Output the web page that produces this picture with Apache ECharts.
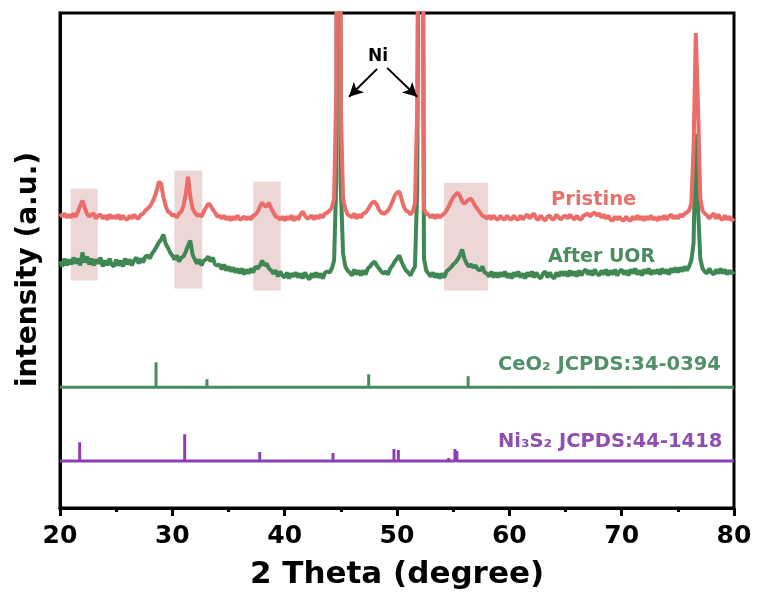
<!DOCTYPE html>
<html>
<head>
<meta charset="utf-8">
<script src="https://cdn.jsdelivr.net/npm/echarts@6/dist/echarts.min.js"></script>
<style>html,body{margin:0;padding:0;background:#fff}#chart{width:758px;height:597px}</style>
</head>
<body>
<div id="chart"></div>
<script>
// 2-theta sampling grid of the scans (degrees)
const thetaStart = 20;
const thetaStep = 0.2;

// Pristine scan (offset intensity, a.u.), 5 points per degree from 20 to 80
const pristine = [
295,292,295,291,294, 291,295,292,297,303, 308,301,295,292,294, 295,290,293,294,290,
293,289,294,290,293, 290,294,289,293,290, 289,293,290,294,291, 290,294,295,298,300,
302,306,311,318,327, 325,312,303,297,296, 293,294,291,295,297, 303,315,332,312,300,
296,293,294,292,297, 301,305,303,299,296, 292,293,290,293,289, 292,288,292,289,293,
289,290,292,289,292, 289,293,294,297,302, 306,303,302,306,300, 296,292,291,289,292,
288,292,289,293,288, 292,289,294,297,293, 290,291,293,289,293, 290,294,291,295,296,
298,301,310,420,1500, 400,310,300,294,293, 291,295,290,294,291, 295,296,299,303,306,
307,304,299,296,295, 296,298,302,307,313, 316,317,310,302,298, 297,294,297,305,400,
900,1000,300,295,294, 291,294,290,294,291, 293,295,298,302,307, 311,314,316,313,307,
305,307,309,310,306, 302,299,296,293,292, 290,293,289,293,290, 289,293,290,289,293,
290,289,293,290,289, 293,289,292,294,290, 293,295,290,289,293, 290,288,292,293,289,
290,294,291,289,292, 293,290,294,291,289, 293,290,289,293,294, 295,292,295,296,293,
295,291,294,290,293, 289,288,292,289,292, 289,288,292,289,288, 292,289,293,289,292,
288,292,289,293,289, 291,288,292,289,293, 289,292,294,290,293, 290,294,292,295,296,
298,305,360,476,400, 310,298,295,293,290, 293,295,290,294,290, 289,293,289,292,288,
290
];

// After UOR scan (offset intensity, a.u.)
const afterUOR = [
247,242,250,243,249, 244,251,245,250,243, 256,246,252,244,250, 243,249,245,251,242,
248,243,250,244,242, 249,243,248,242,250, 244,249,243,248,251, 245,250,246,252,253,
250,255,258,262,266, 269,274,265,261,256, 253,249,253,247,251, 252,257,263,268,254,
249,245,249,243,248, 249,252,247,251,244, 243,244,239,244,238, 242,237,241,236,240,
235,240,234,239,235, 240,236,242,240,243, 248,243,245,240,238, 235,238,232,237,233,
231,236,230,235,232, 236,231,235,230,236, 232,229,235,231,236, 231,235,230,236,237,
236,240,248,330,1400, 320,255,242,238,236, 233,239,234,238,233, 238,234,240,242,245,
247,243,240,237,235, 237,234,240,243,247, 250,253,247,242,238, 236,233,238,242,320,
800,900,250,238,235, 232,236,231,235,230, 235,231,237,239,241, 244,246,249,253,259,
250,245,242,244,241, 243,239,238,242,236, 235,232,237,231,236, 231,236,232,237,231,
235,230,236,232,237, 231,235,230,236,232, 237,231,236,232,230, 235,237,231,236,232,
230,236,232,237,233, 237,232,238,233,237, 232,238,233,237,239, 234,238,233,239,235,
233,238,234,239,233, 238,234,239,233,237, 239,234,238,233,239, 235,240,234,238,233,
239,235,240,234,238, 235,239,234,240,235, 239,234,240,236,241, 236,241,237,242,238,
242,248,265,375,300, 250,240,237,235,240, 236,234,239,235,240, 235,239,234,238,235,
237
];

// Reference patterns (stick positions in degrees, relative heights)
const ceo2Pos = [28.55, 33.08, 47.48, 56.33, 59.09, 69.40, 76.70, 79.07];
const ceo2Int = [25, 8, 13, 11, 1, 1, 2, 1];
const ceo2Base = 121;
const ni3s2Pos = [21.75, 31.10, 37.78, 38.30, 44.30, 49.73, 50.12, 54.60, 55.16, 55.33];
const ni3s2Int = [19, 27, 9, 2, 8, 12, 11, 3, 12, 10];
const ni3s2Base = 47;

// Highlighted regions [x0, x1, y0, y1]
const boxes = [[20.95, 23.36, 228, 320], [30.18, 32.67, 220, 338], [37.21, 39.65, 218, 327], [54.17, 58.11, 218, 326]];
// Ni arrows [fromX, fromY, toX, toY]
const arrows = [[48.23, 440, 45.73, 412], [49.12, 441, 51.79, 412]];

const xTicks = [20, 30, 40, 50, 60, 70, 80];

function toPairs(arr) {
  return arr.map((v, i) => [+(thetaStart + i * thetaStep).toFixed(2), v]);
}
function sticks(pos, ints, base) {
  const d = [[xTicks[0], base]];
  pos.forEach((p, i) => { d.push([p, base], [p, base + ints[i]], [p, base]); });
  d.push([xTicks[xTicks.length - 1], base]);
  return d;
}

const FONT = '"DejaVu Sans", Arial, sans-serif';
const RED = '#eb6c68', GREEN = '#3f8753', PURPLE = '#8c40b6';

const chart = echarts.init(document.getElementById('chart'), null, {renderer: 'canvas'});
chart.setOption({
  animation: false,
  backgroundColor: '#fff',
  grid: {left: 60, right: 24, top: 13, bottom: 89, show: true, borderColor: '#000', borderWidth: 3, backgroundColor: 'transparent'},
  xAxis: {
    type: 'value', min: 20, max: 80, interval: 10,
    axisLine: {show: true, lineStyle: {color: '#000', width: 3}},
    axisTick: {show: true, inside: false, length: 8, lineStyle: {color: '#000', width: 3}},
    minorTick: {show: true, splitNumber: 2, length: 4, lineStyle: {color: '#000', width: 3}},
    axisLabel: {color: '#000', fontSize: 25, fontWeight: 'bold', fontFamily: FONT, margin: 16},
    splitLine: {show: false},
    name: '2 Theta (degree)', nameLocation: 'middle', nameGap: 51,
    nameTextStyle: {color: '#000', fontSize: 31, fontWeight: 'bold', fontFamily: FONT, padding: [0, 0, 0, 0]}
  },
  yAxis: {
    type: 'value', min: 0, max: 496,
    axisLine: {show: true, lineStyle: {color: '#000', width: 3}},
    axisTick: {show: false}, axisLabel: {show: false}, splitLine: {show: false},
    name: 'intensity (a.u.)', nameLocation: 'middle', nameGap: 17, nameRotate: 90,
    nameTextStyle: {color: '#000', fontSize: 28, fontWeight: 'bold', fontFamily: FONT, padding: [0, 18, 0, 0]}
  },
  series: [
    {
      type: 'line', data: [], z: 1, silent: true,
      markArea: {silent: true, itemStyle: {color: 'rgba(200,130,130,0.33)'},
        data: boxes.map(b => [{coord: [b[0], b[2]]}, {coord: [b[1], b[3]]}])}
    },
    {
      name: 'After UOR', type: 'line', data: toPairs(afterUOR), showSymbol: false, z: 2,
      lineStyle: {color: GREEN, width: 4}, itemStyle: {color: GREEN}
    },
    {
      name: 'Pristine', type: 'line', data: toPairs(pristine), showSymbol: false, z: 3,
      lineStyle: {color: RED, width: 4}, itemStyle: {color: RED},
      markLine: {silent: true, symbol: ['none', 'arrow'], symbolSize: [11, 14],
        lineStyle: {color: '#000', width: 2, type: 'solid'}, label: {show: false},
        data: arrows.map(a => [{coord: [a[0], a[1]]}, {coord: [a[2], a[3]]}])}
    },
    {
      name: 'CeO2', type: 'line', data: sticks(ceo2Pos, ceo2Int, ceo2Base), showSymbol: false, z: 3,
      lineStyle: {color: '#4a8b5e', width: 3}
    },
    {
      name: 'Ni3S2', type: 'line', data: sticks(ni3s2Pos, ni3s2Int, ni3s2Base), showSymbol: false, z: 3,
      lineStyle: {color: PURPLE, width: 3}
    }
  ],
  graphic: [
    {type: 'text', x: 378, y: 57, z: 10, style: {text: 'Ni', fill: '#000', font: 'bold 17px ' + FONT, align: 'center', verticalAlign: 'middle'}},
    {type: 'text', x: 551, y: 200, z: 10, style: {text: 'Pristine', fill: '#e8706d', font: 'bold 19.5px ' + FONT, align: 'left', verticalAlign: 'middle'}},
    {type: 'text', x: 548, y: 257, z: 10, style: {text: 'After UOR', fill: '#4b8c5c', font: 'bold 19px ' + FONT, align: 'left', verticalAlign: 'middle'}},
    {type: 'text', x: 498, y: 365, z: 10, style: {text: 'CeO₂ JCPDS:34-0394', fill: '#52906a', font: 'bold 19.5px ' + FONT, align: 'left', verticalAlign: 'middle'}},
    {type: 'text', x: 498, y: 442, z: 10, style: {text: 'Ni₃S₂ JCPDS:44-1418', fill: '#8e4fb0', font: 'bold 19.5px ' + FONT, align: 'left', verticalAlign: 'middle'}}
  ]
});
</script>
</body>
</html>
